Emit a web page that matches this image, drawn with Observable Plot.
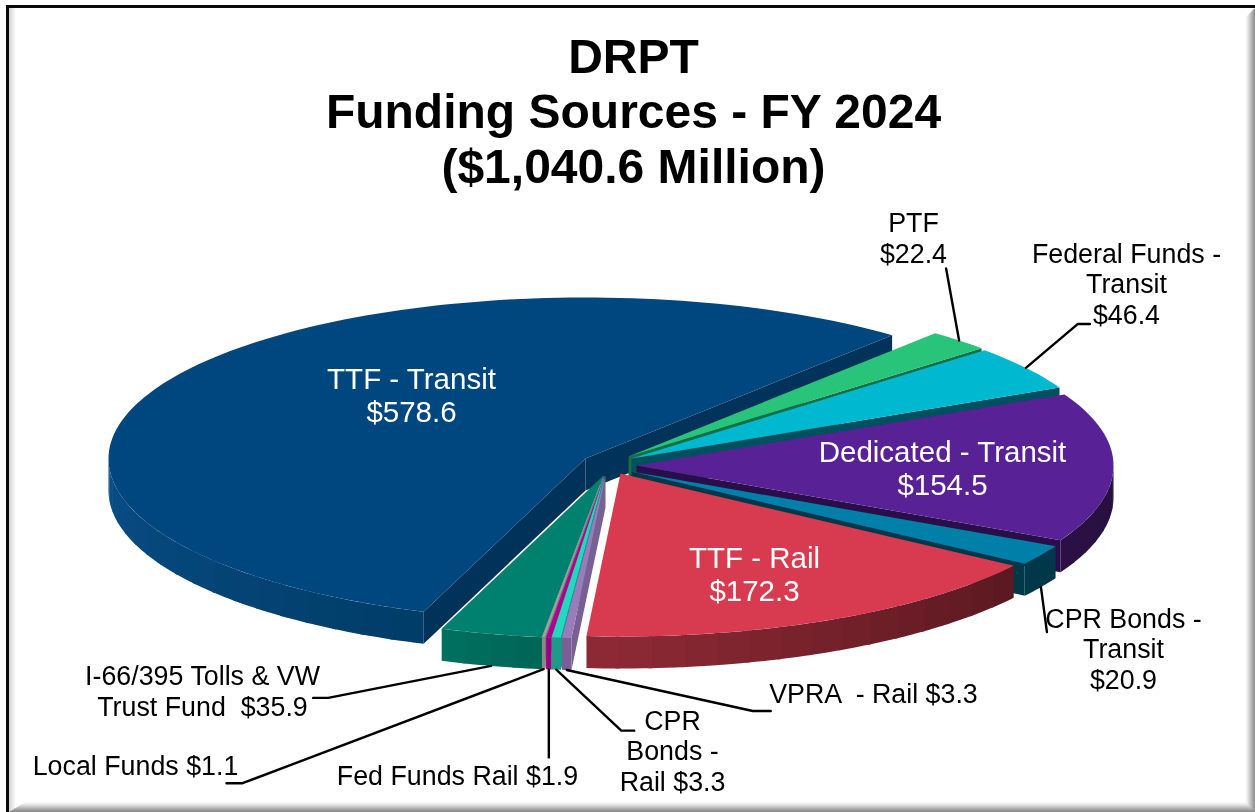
<!DOCTYPE html>
<html>
<head>
<meta charset="utf-8">
<script src="https://cdn.jsdelivr.net/npm/d3@7"></script>
<script src="https://cdn.jsdelivr.net/npm/@observablehq/plot@0.6"></script>
<style>
html,body{margin:0;padding:0;background:#fff;}
#chart{position:relative;width:1255px;height:812px;overflow:hidden;font-family:"Liberation Sans",Arial,sans-serif;}
#chart svg{display:block;position:absolute;left:0;top:0;background:transparent!important;filter:blur(0.35px);}
.edge{position:absolute;pointer-events:none;}
#top{left:6px;top:5px;width:1249px;height:3px;background:#0a0a0a;}
#left{left:6px;top:5px;width:3px;height:807px;background:#0a0a0a;}
#leftb{left:9px;top:8px;width:7px;height:804px;background:linear-gradient(to right,#d4d4d4,#fff);}
#right{left:1245px;top:8px;width:10px;height:804px;background:linear-gradient(to right,#fff,#f0f0f0 20%,#bbb 60%,#8c8c8c);clip-path:polygon(100% 0,100% 100%,0 100%,0 10px);}
#bottom{left:9px;top:802px;width:1246px;height:10px;background:linear-gradient(to bottom,#fff,#e8e8e8 25%,#b8b8b8 60%,#858585);clip-path:polygon(16px 0,calc(100% - 10px) 0,100% 100%,0 100%);}
</style>
</head>
<body>
<div id="chart">
<div class="edge" id="leftb"></div>
<div class="edge" id="right"></div>
<div class="edge" id="bottom"></div>
<div class="edge" id="top"></div>
<div class="edge" id="left"></div>
</div>
<script>
// ---- data ----
const titleLines = ["DRPT", "Funding Sources - FY 2024", "($1,040.6 Million)"];
const categories = ["PTF", "Federal Funds - Transit", "Dedicated - Transit", "CPR Bonds - Transit", "TTF - Rail", "VPRA - Rail", "CPR Bonds - Rail", "Fed Funds Rail", "Local Funds", "I-66/395 Tolls & VW Trust Fund", "TTF - Transit"];
const values = [22.4, 46.4, 154.5, 20.9, 172.3, 3.3, 3.3, 1.9, 1.1, 35.9, 578.6];
const labelTemplates = ["PTF\n#", "Federal Funds -\nTransit\n#", "Dedicated - Transit\n#", "CPR Bonds -\nTransit\n#", "TTF - Rail\n#", "VPRA  - Rail #", "CPR\nBonds -\nRail #", "Fed Funds Rail #", "Local Funds #", "I-66/395 Tolls & VW\nTrust Fund  #", "TTF - Transit\n#"];

// ---- styles ----
const topColors  = ["#27c47a", "#00b8cf", "#582296", "#007fa8", "#d83a4f", "#9a7cbc", "#22d9c0", "#b0008f", "#a0a0a0", "#008170", "#00477f"];
const sideColors = ["#166f45", "#00505f", "#2a0e4a", "#00384a", "#5a1820", "#7a5f95", "#1e9a8a", "#8f0078", "#808080", "#00685a", "#00325a"];
const rimFrom    = ["#166f45", "#00505f", "#260f3d", "#00384a", "#5a1820", "#7a5f95", "#1e9a8a", "#9a0080", "#8a8a8a", "#006555", "#003c68"];
const rimTo      = ["#166f45", "#00505f", "#2c1046", "#00384a", "#8f2a35", "#7a5f95", "#1e9a8a", "#9a0080", "#8a8a8a", "#00705f", "#0a4f88"];
const largeLabel = [false, false, true, false, true, false, false, false, false, false, true];

// ---- layout ----
const W = 1255, H = 812;
const startAngle = 40, rx = 477, ryBack = 161, ryFront = 163, depth = 32;
const center = [628, 456];
const explode = [[0, 0], [3, 2], [8, 9], [3, 15], [-8, 17], [-23, 19], [-24, 19], [-24, 19], [-25, 19], [-25, 19], [-43, 2]];
const drawOrder = [10, 0, 1, 2, 3, 4, 9, 8, 7, 6, 5];
const labelOffset = [[285, -219], [495, -175], [306, 2], [492, 177], [134, 100], [268, 218], [68, 275], [-147, 300], [-468, 290], [-401, 215], [-174, -64]];
const leaderAt = [true, true, false, true, false, true, true, true, true, true, false];
const leaderElbows = [
  [[-13, -72]], [[52, -44], [64, -44]], [], [[6, 45]], [],
  [[186, 41], [204, 41]], [[65, 61], [78, 61]], [[0, 88]], [[-301, 114], [-317, 114]], [[-163, 32], [-178, 32]], []
];

// ---- geometry derived from the values ----
const total = d3.sum(values);
const rad = d => d * Math.PI / 180;
let running = startAngle;
const slices = categories.map((name, i) => {
  const a = running, b = running + values[i] / total * 360;
  running = b;
  return {i, name, a, b, ax: center[0] + explode[i][0], ay: center[1] + explode[i][1]};
});
const rim = (s, t, down = 0) => {
  const c = Math.cos(rad(t));
  return [s.ax + rx * Math.sin(rad(t)), s.ay - (c > 0 ? ryBack : ryFront) * c + down];
};

const polys = [];
let pid = 0;
function addPoly(pts, color) {
  const id = pid++;
  pts.forEach(([x, y]) => polys.push({id, x, y, color}));
}
drawOrder.map(i => slices[i]).forEach(s => {
  const {i, a, b} = s;
  const face = t => {
    const p = rim(s, t), q = rim(s, t, depth);
    addPoly([[s.ax, s.ay], p, q, [s.ax, s.ay + depth]], sideColors[i]);
  };
  if (Math.sin(rad(a)) < 0) face(a);
  if (Math.sin(rad(b)) > 0) face(b);
  const from = Math.max(a, 90), to = Math.min(b, 270);
  if (to > from) {
    const n = Math.max(1, Math.ceil((to - from) / 4));
    const shade = d3.interpolateRgb(rimFrom[i], rimTo[i]);
    for (let k = 0; k < n; k++) {
      const t0 = from + (to - from) * k / n, t1 = Math.min(to, from + (to - from) * (k + 1) / n + 0.5);
      const steps = d3.range(5).map(j => t0 + (t1 - t0) * j / 4);
      addPoly([...steps.map(t => rim(s, t)), ...steps.reverse().map(t => rim(s, t, depth))], shade((k + .5) / n));
    }
  }
  const n = Math.max(2, Math.ceil((b - a) / 1.5));
  const arc = d3.range(n + 1).map(k => rim(s, a + (b - a) * k / n));
  addPoly([[s.ax, s.ay], ...arc], topColors[i]);
});

const leaders = [];
slices.forEach(s => {
  if (!leaderAt[s.i]) return;
  const mid = (s.a + s.b) / 2;
  const down = Math.cos(rad(mid)) < 0 ? depth : 0;
  const [x0, y0] = rim(s, mid, down);
  leaders.push({id: s.i, x: x0, y: y0});
  leaderElbows[s.i].forEach(([dx, dy]) => leaders.push({id: s.i, x: x0 + dx, y: y0 + dy}));
});

const labels = slices.map(s => ({
  text: labelTemplates[s.i].replace("#", "$" + values[s.i].toFixed(1)),
  x: s.ax + labelOffset[s.i][0],
  y: s.ay + labelOffset[s.i][1],
  large: largeLabel[s.i]
}));

const chart = Plot.plot({
  width: W, height: H,
  margin: 0,
  x: {domain: [0, W], range: [0, W], axis: null},
  y: {domain: [0, H], range: [0, H], axis: null},
  color: {type: "identity"},
  style: {background: "transparent", fontFamily: "'Liberation Sans', Arial, sans-serif"},
  marks: [
    Plot.line(polys, {x: "x", y: "y", z: "id", fill: "color", stroke: null, curve: "linear-closed"}),
    Plot.line(leaders, {x: "x", y: "y", z: "id", stroke: "#000", strokeWidth: 2.4}),
    Plot.text(labels.filter(d => d.large), {x: "x", y: "y", text: "text", fill: "#fff", fontSize: 29.5, lineHeight: 1.12, textAnchor: "middle"}),
    Plot.text(labels.filter(d => !d.large), {x: "x", y: "y", text: "text", fill: "#000", fontSize: 26.8, lineHeight: 1.14, textAnchor: "middle"}),
    Plot.text([titleLines.join("\n")], {x: () => 633, y: () => 110, text: d => d, fill: "#000", fontSize: 48, fontWeight: "bold", lineHeight: 1.15, textAnchor: "middle"})
  ]
});
document.getElementById("chart").prepend(chart);
</script>
</body>
</html>
